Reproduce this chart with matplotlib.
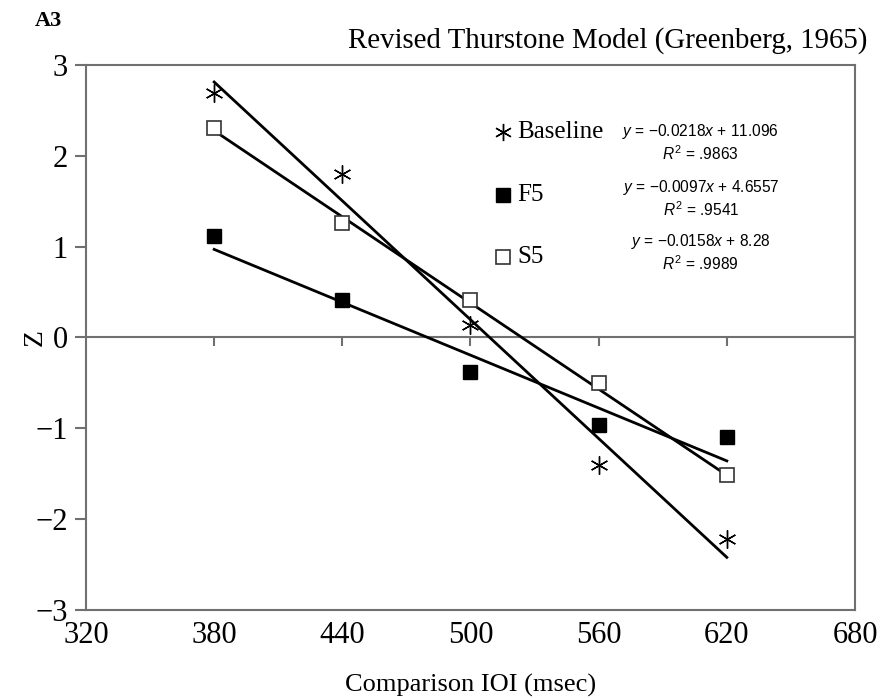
import matplotlib.pyplot as plt
import numpy as np

# comparison IOI values (msec)
ioi = [380, 440, 500, 560, 620]

# z scores
baseline = [2.69, 1.80, 0.14, -1.40, -2.22]
f5 = [1.12, 0.41, -0.38, -0.96, -1.10]
s5 = [2.31, 1.26, 0.41, -0.50, -1.51]

# fitted lines (slope, intercept, r2) as printed on the chart
fits = {
    "Baseline": (-0.0218, 11.096, ".9863"),
    "F5": (-0.0097, 4.6557, ".9541"),
    "S5": (-0.0158, 8.28, ".9989"),
}
eq_texts = ["$y$ = \u22120.0218$x$ + 11.096",
            "$y$ = \u22120.0097$x$ + 4.6557",
            "$y$ = \u22120.0158$x$ + 8.28"]

x_ticks = [320, 380, 440, 500, 560, 620, 680]
y_ticks = [-3, -2, -1, 0, 1, 2, 3]

serif = "Liberation Serif"
sans = "Liberation Sans"
frame_col = "#707070"

plt.rcParams["mathtext.fontset"] = "custom"
plt.rcParams["mathtext.rm"] = "Liberation Sans"
plt.rcParams["mathtext.it"] = "Liberation Sans:italic"


def main():
    fig = plt.figure(figsize=(8.8, 6.98), dpi=100)
    ax = fig.add_axes([0.0977, 0.126, 0.8739, 0.781])

    series = [("Baseline", baseline, dict(marker=(6, 2, 0), ms=13,
                                          mfc="none", mec="black", mew=1.0)),
              ("F5", f5, dict(marker="s", ms=10, mfc="black", mec="black")),
              ("S5", s5, dict(marker="s", ms=10, mfc="white", mec="#333333",
                              mew=1.2))]

    xs = np.array([ioi[0], ioi[-1]])
    for name, vals, style in series:
        ax.plot(ioi, vals, ls="none", zorder=3, **style)
        slope, icpt, _ = fits[name]
        ax.plot(xs, slope * xs + icpt, color="black", lw=2.0, zorder=2)

    ax.set_xlim(320, 680)
    ax.set_ylim(-3, 3)
    ax.set_xticks(x_ticks)
    ax.set_yticks(y_ticks)
    ax.set_yticklabels([str(v).replace("-", "\u2212") for v in y_ticks])

    # x axis drawn through zero, with its tick marks
    ax.axhline(0, color=frame_col, lw=1.5, zorder=1)
    ax.vlines(x_ticks[1:-1], -0.09, 0, color=frame_col, lw=1.5, zorder=1)

    for sp in ax.spines.values():
        sp.set_color(frame_col)
        sp.set_linewidth(1.5)
    ax.tick_params(axis="x", length=0, pad=8, labelsize=22)
    ax.tick_params(axis="y", length=8, width=1.5, color=frame_col,
                   direction="out", pad=5, labelsize=22)
    for lab in ax.get_xticklabels() + ax.get_yticklabels():
        lab.set_fontfamily(serif)

    ax.set_xlabel("Comparison IOI (msec)", fontfamily=serif, fontsize=19,
                  labelpad=17)
    ax.set_ylabel("Z", fontfamily=serif, fontsize=20, va="center")
    ax.yaxis.set_label_coords(-0.066, 0.5)

    fig.text(0.986, 0.922, "Revised Thurstone Model (Greenberg, 1965)",
             ha="right", va="bottom", fontfamily=serif, fontsize=20.8)
    fig.text(0.04, 0.955, "A3", ha="left", va="bottom", fontfamily=serif,
             fontsize=16, fontweight="bold")

    # legend entries
    leg_y = [2.263, 1.57, 0.887]
    for (name, vals, style), ly in zip(series, leg_y):
        st = dict(style)
        st["ms"] = st["ms"] * 0.95
        ax.plot([515.2], [ly], ls="none", clip_on=False, **st)
        ax.text(522.0, ly, name, fontfamily=serif, fontsize=18, va="center",
                ha="left")

    # equations
    eq_y = [2.266, 1.65, 1.055]
    for (name, vals, style), ey, eq in zip(series, eq_y, eq_texts):
        r2 = fits[name][2]
        ax.text(607.8, ey, eq, fontfamily=sans, fontsize=11.2, ha="center",
                va="center")
        ax.text(607.8, ey - 0.24, "$R^2$ = " + r2, fontfamily=sans,
                fontsize=11.2, ha="center", va="center")

    fig.savefig("out.png", dpi=100)


if __name__ == "__main__":
    main()
